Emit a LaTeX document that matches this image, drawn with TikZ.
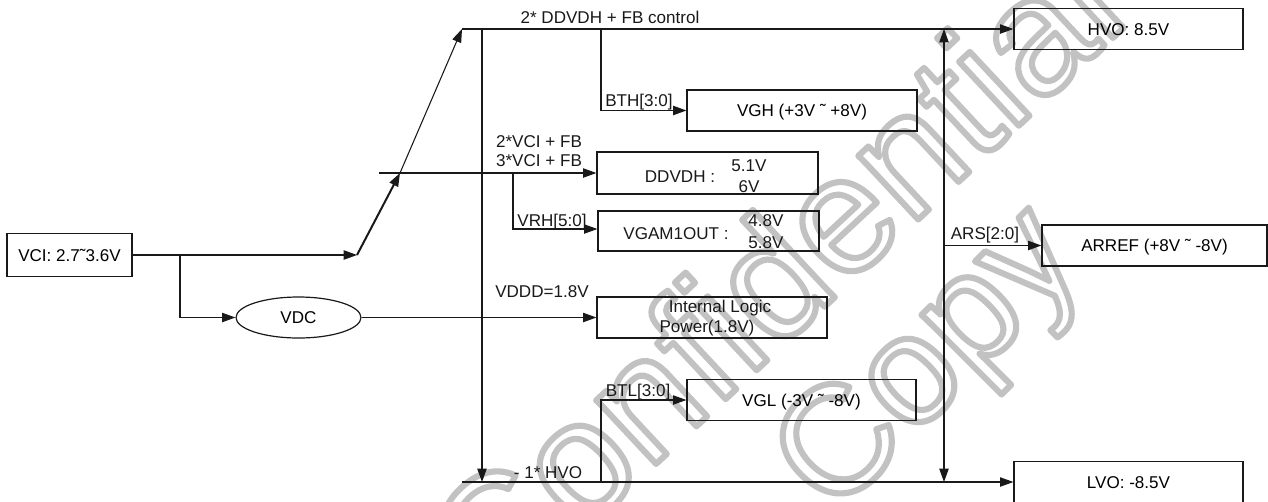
\documentclass[tikz,border=0pt]{standalone}
\usepackage{fontspec}
\setmainfont{Liberation Sans}
\usetikzlibrary{arrows.meta,shapes.geometric}
\definecolor{ink}{RGB}{25,25,25}
\newcommand\olstroke{\special{pdf:literal direct 1 Tr 4.6 w 1 j 1 J 0.76 G}}
\begin{document}
\begin{tikzpicture}[x=0.75pt,y=-0.75pt,
  txt/.style={font=\fontsize{12.8}{15}\selectfont, inner sep=0pt, text=ink, text height=9.2pt, text depth=0pt},
  box/.style={draw=ink, line width=0.9pt, rectangle, inner sep=0pt, font=\fontsize{12.8}{15}\selectfont, text height=9.2pt, text depth=0pt, minimum height=30.75pt},
  wire/.style={draw=ink, line width=0.8pt},
  arr/.style={wire, -{Triangle[length=10pt,width=7pt]}},
  arrboth/.style={wire, {Triangle[length=10pt,width=7pt]}-{Triangle[length=10pt,width=7pt]}},
  wm/.style={inner sep=0pt, anchor=base west}]
\useasboundingbox (0,0) rectangle (1268,501);

% watermark (outlined letters)
\node[wm, font=\fontsize{124}{124}\selectfont, rotate=43] (wmA) at (493,616) {\olstroke Confidential};
\node[wm, font=\fontsize{115}{115}\selectfont, rotate=45] (wmB) at (833,518) {\olstroke Copy};

% boxes
\node[box, minimum width=93.75pt, minimum height=32.25pt] (vci) at (69.5,255) {VCI: 2.7˜3.6V};
\node[draw=ink, line width=0.9pt, ellipse, minimum width=93.75pt, minimum height=30.75pt, inner sep=0pt, font=\fontsize{12.8}{15}\selectfont] (vdc) at (298.5,317.5) {VDC};
\node[box, minimum width=171.75pt] (hvo) at (1128.5,29) {HVO: 8.5V};
\node[box, minimum width=172.5pt] (vgh) at (802,110.5) {VGH (+3V ˜ +8V)};
\node[box, minimum width=165.75pt, minimum height=31.5pt] (ddvdh) at (707.5,173) {};
\node[box, minimum width=165.75pt, minimum height=30pt] (vgam) at (708.5,231) {};
\node[box, minimum width=172.5pt] (logic) at (712,317.5) {};
\node[box, minimum width=171.75pt] (vgl) at (801.5,400) {VGL (-3V ˜ -8V)};
\node[box, minimum width=168.75pt] (arref) at (1154.5,245.5) {ARREF (+8V ˜ -8V)};
\node[box, minimum width=171.75pt] (lvo) at (1128.5,482) {LVO: -8.5V};

% texts inside boxes
\node[txt] (ddvdhL) at (680,176) {DDVDH :};
\node[txt] (ddvdhA) at (749,165) {5.1V};
\node[txt] (ddvdhB) at (749,186) {6V};
\node[txt] (vgamL) at (676,233) {VGAM1OUT :};
\node[txt] (vgamA) at (766,220) {4.8V};
\node[txt] (vgamB) at (766,242) {5.8V};
\node[txt] (logicA) at (720,306) {Internal Logic};
\node[txt] (logicB) at (707,326.5) {Power(1.8V)};

% labels
\node[txt] (lblTop) at (610,17.5) {2* DDVDH + FB control};
\node[txt] (lblBTH) at (639,100) {BTH[3:0]};
\node[txt] (lbl2v) at (539,141) {2*VCI + FB};
\node[txt] (lbl3v) at (539,160) {3*VCI + FB};
\node[txt] (lblVRH) at (552,220) {VRH[5:0]};
\node[txt] (lblVDDD) at (542,291.5) {VDDD=1.8V};
\node[txt] (lblBTL) at (638,390) {BTL[3:0]};
\node[txt] (lblHVO) at (548,472) {- 1* HVO};
\node[txt] (lblARS) at (985,233) {ARS[2:0]};

% junction points
\coordinate (p1) at (357,255);
\coordinate (p2) at (400,173);
\coordinate (p3) at (462,29);
\coordinate (j1) at (180,255);
\coordinate (h0) at (379,173);
\coordinate (j2) at (513,173);
\coordinate (j2b) at (513,229);
\coordinate (j3) at (601,29);
\coordinate (j4) at (482,29);
\coordinate (j5) at (482,482);
\coordinate (b0) at (462,482);
\coordinate (j6) at (601,482);
\coordinate (r1) at (944,29);
\coordinate (r2) at (944,482);
\coordinate (r3) at (944,245.5);

% connectors
\draw[arr] (vci.east) -- (p1);
\draw[arr, line width=1.5pt] (p1) -- (p2);
\draw[arr] (p2) -- (p3);
\draw[arr] (p3) -- (hvo.west);
\draw[arr] (j1) |- (vdc.west);
\draw[arr] (vdc.east) -- (logic.west);
\draw[arr] (h0) -- (ddvdh.west);
\draw[arr] (j2) -- (j2b) -- (vgam.west |- j2b);
\draw[arr] (j3) |- (vgh.west);
\draw[arr] (j4) -- (j5);
\draw[arr] (b0) -- (lvo.west);
\draw[arr] (j6) |- (vgl.west);
\draw[arrboth] (r1) -- (r2);
\draw[arr] (r3) -- (arref.west);
\end{tikzpicture}
\end{document}
